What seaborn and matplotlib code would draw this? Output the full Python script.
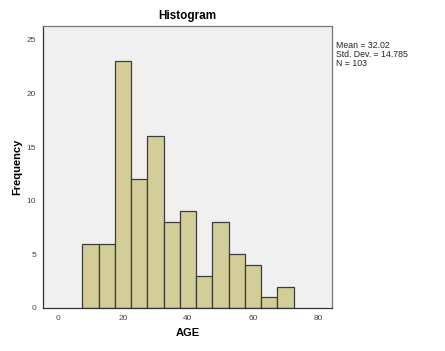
import numpy as np
import pandas as pd
import matplotlib.pyplot as plt
import seaborn as sns

# bin centres (width 5) and counts
bin_centers = [10, 15, 20, 25, 30, 35, 40, 45, 50, 55, 60, 65, 70]
counts = [6, 6, 23, 12, 16, 8, 9, 3, 8, 5, 4, 1, 2]
bin_width = 5
stats_text = "Mean = 32.02\nStd. Dev. = 14.785\nN = 103"

if __name__ == "__main__":
    df = pd.DataFrame({"AGE": bin_centers, "n": counts})
    lo = min(bin_centers) - bin_width / 2
    hi = max(bin_centers) + bin_width / 2

    sns.set_style("white")
    plt.rcParams["font.family"] = ["Liberation Sans", "DejaVu Sans"]

    fig = plt.figure(figsize=(4.45, 3.51), dpi=100)
    ax = fig.add_axes([43 / 445, 1 - 308 / 351, 289 / 445, 282 / 351])
    ax.set_facecolor("#f0f0f0")

    sns.histplot(data=df, x="AGE", weights="n", binwidth=bin_width,
                 binrange=(lo, hi), ax=ax,
                 color="#d3ce97", edgecolor="#3c3c3c", linewidth=0.9, alpha=1)

    ax.set_xlim(-4.6, 84.3)
    ax.set_ylim(0, 26.3)
    ax.set_xticks([0, 20, 40, 60, 80])
    ax.set_yticks([0, 5, 10, 15, 20, 25])
    ax.tick_params(axis="both", labelsize=6, colors="#333333", labelcolor="#444444",
                   direction="out", length=3, width=0.8, pad=2)
    for s in ax.spines.values():
        s.set_color("#777777")
        s.set_linewidth(0.9)
    ax.spines["left"].set_color("#333333")
    ax.spines["bottom"].set_color("#333333")

    ax.set_title("Histogram", fontsize=8.5, fontweight="bold", pad=5, color="black")
    ax.set_xlabel("AGE", fontsize=8, fontweight="bold", labelpad=4, color="black")
    ax.set_ylabel("Frequency", fontsize=8, fontweight="bold", labelpad=3, color="black")

    fig.text(336 / 445, 1 - 41 / 351, stats_text, fontsize=6.3, va="top", ha="left",
             color="#222222", linespacing=1.0)

    fig.savefig("out.png", dpi=100)
